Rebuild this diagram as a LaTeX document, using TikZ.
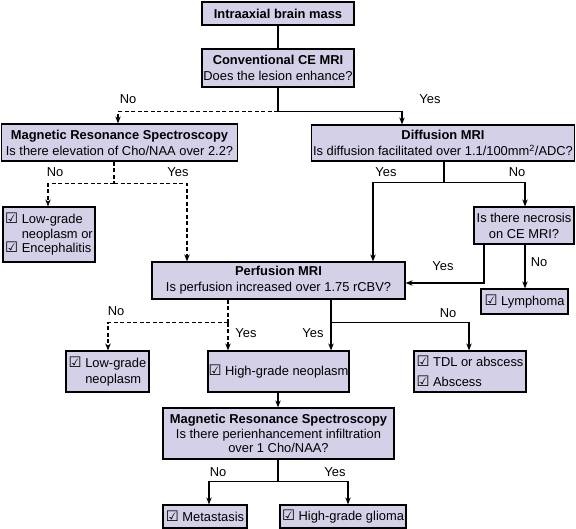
\documentclass[tikz,border=0pt]{standalone}
\usepackage{fontspec}
\setmainfont{Liberation Sans}
\newfontfamily\symfont{DejaVu Sans}
\usetikzlibrary{arrows.meta}
\definecolor{boxfill}{RGB}{212,208,232}
\newcommand{\chk}{{\symfont\fontsize{14.5}{14.5}\selectfont\char"2611}}

\begin{document}
\begin{tikzpicture}[x=1pt, y=-1pt,
    box/.style={draw, line width=1.2pt, fill=boxfill, inner sep=0pt, align=center,
                font=\fontsize{12.9}{15.8}\selectfont},
    lbl/.style={font=\fontsize{12.9}{15}\selectfont},
    arr/.style={-{Stealth[length=7pt, width=5.5pt]}},
    dsh/.style={dash pattern=on 4pt off 2.5pt},
    line width=1.1pt
]
    \useasboundingbox (0,0) rectangle (576,529);

    % Top of the tree
    \node[box, minimum width=152pt, minimum height=23pt] (mass) at (278,13.5) {\textbf{Intraaxial brain mass}};
    \node[box, minimum width=152pt, minimum height=38pt] (conv) at (278,68) {\textbf{Conventional CE MRI}\\Does the lesion enhance?};

    % Second level
    \node[box, minimum width=236pt, minimum height=37pt] (mrsa) at (119.5,142.5) {\textbf{Magnetic Resonance Spectroscopy}\\Is there elevation of Cho/NAA over 2.2?};
    \node[box, minimum width=263pt, minimum height=36pt] (diff) at (443,143) {\textbf{Diffusion MRI}\\Is diffusion facilitated over 1.1/100mm\textsuperscript{2}/ADC?};

    % Third level
    \node[box, minimum width=92pt, minimum height=55pt, align=left, font=\fontsize{12.9}{14.5}\selectfont] (lowa) at (49,234.5)
        {\chk{} Low-grade\\\phantom{\chk} neoplasm or\\\chk{} Encephalitis};
    \node[box, minimum width=100pt, minimum height=37pt] (necro) at (524,225.5) {Is there necrosis\\on CE MRI?};
    \node[box, minimum width=253pt, minimum height=37pt] (perf) at (278.5,280.5) {\textbf{Perfusion MRI}\\Is perfusion increased over 1.75 rCBV?};
    \node[box, minimum width=87pt, minimum height=25pt] (lymph) at (524.5,301.5) {\chk{} Lymphoma};

    % Fourth level
    \node[box, minimum width=83pt, minimum height=41pt, align=left] (lowb) at (107.5,371.5) {\chk{} Low-grade\\\phantom{\chk} neoplasm};
    \node[box, minimum width=141pt, minimum height=41pt] (hgneo) at (278.5,371.5) {\chk{} High-grade neoplasm};
    \node[box, minimum width=112pt, minimum height=41pt, align=left, font=\fontsize{12.9}{20}\selectfont] (tdl) at (470,371.5) {\chk{} TDL or abscess\\\chk{} Abscess};

    % Bottom
    \node[box, minimum width=231pt, minimum height=51pt, font=\fontsize{12.9}{14.5}\selectfont] (mrsb) at (278.5,433.5)
        {\textbf{Magnetic Resonance Spectroscopy}\\Is there perienhancement infiltration\\over 1 Cho/NAA?};
    \node[box, minimum width=84pt, minimum height=23pt] (meta) at (205,516.5) {\chk{} Metastasis};
    \node[box, minimum width=126pt, minimum height=23pt] (glioma) at (343,516.5) {\chk{} High-grade glioma};

    % Connectors
    \draw (mass) -- (conv);
    \draw (conv.south) -- ++(0,24) coordinate (j1);
    \draw[arr, dsh] (j1) -| ([xshift=-1.5pt]mrsa.north);
    \draw[arr] (j1) -| ([xshift=-41pt]diff.north);

    \draw[dsh] ([xshift=-5.5pt]mrsa.south) -- ++(0,22) coordinate (j2);
    \draw[arr, dsh] (j2) -| ([xshift=-1pt]lowa.north);
    \draw[arr, dsh] (j2) -| ([xshift=-91.5pt]perf.north);

    \draw ([xshift=1pt]diff.south) -- ++(0,21) coordinate (j3);
    \draw[arr] (j3) -| ([xshift=94.5pt]perf.north);
    \draw[arr] (j3) -| ([xshift=1pt]necro.north);

    \draw[arr] ([xshift=-40pt]necro.south) |- ([yshift=-2.5pt]perf.east);
    \draw[arr] ([xshift=1pt]necro.south) -- ([xshift=0.5pt]lymph.north);

    \draw[dsh] ([xshift=-50.5pt]perf.south) -- ++(0,23) coordinate (j4);
    \draw[arr, dsh] (j4) -| ([xshift=0.5pt]lowb.north);
    \draw[arr, dsh] (j4) -- ([xshift=-50.5pt]hgneo.north);
    \draw[arr] ([xshift=52.5pt]perf.south) -- ([xshift=52.5pt]hgneo.north);
    \draw ([xshift=52.5pt]perf.south) ++(0,23) coordinate (j5);
    \draw[arr] (j5) -| ([xshift=-1pt]tdl.north);

    \draw[arr] ([xshift=-0.5pt]hgneo.south) -- ([xshift=-0.5pt]mrsb.north);
    \draw ([xshift=-0.5pt]mrsb.south) -- ++(0,22) coordinate (j6);
    \draw[arr] (j6) -| ([xshift=4pt]meta.north);
    \draw[arr] (j6) -| ([xshift=5pt]glioma.north);

    % Yes / No labels
    \node[lbl] (n1) at (128,99) {No};
    \node[lbl] (y1) at (430,99) {Yes};
    \node[lbl] (n2) at (55,172) {No};
    \node[lbl] (y2) at (178,172) {Yes};
    \node[lbl] (y3) at (386,172) {Yes};
    \node[lbl] (n3) at (517,172) {No};
    \node[lbl] (y4) at (443,266) {Yes};
    \node[lbl] (n4) at (539,262) {No};
    \node[lbl] (n5) at (116,311) {No};
    \node[lbl] (y5) at (246,333) {Yes};
    \node[lbl] (y6) at (313,333) {Yes};
    \node[lbl] (n6) at (448,313) {No};
    \node[lbl] (n7) at (218,472) {No};
    \node[lbl] (y7) at (335,472) {Yes};

\end{tikzpicture}
\end{document}
